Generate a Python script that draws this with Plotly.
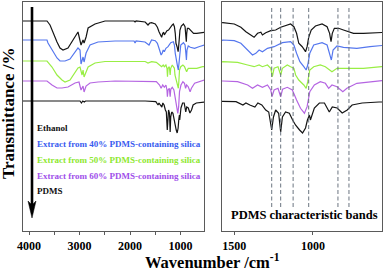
import plotly.graph_objects as go

W, H = 383, 272

# ---------------- data (wavenumber in cm-1, transmittance in a.u., baseline ~100) ----------------
wn_ethanol = [4119, 3644, 3584, 3525, 3446, 3386, 3327, 3228, 3129, 3050, 3030, 2970, 2930, 2910,
              2870, 2830, 2693, 2495, 1920, 1900, 1880, 1700, 1644, 1610,
              1573, 1500, 1458, 1426, 1395, 1374, 1352, 1331, 1321, 1300, 1268, 1237, 1205, 1163,
              1142, 1121, 1104, 1090, 1068, 1047, 1037, 1027, 1011, 984, 942, 910, 894, 885, 877,
              864, 837, 806, 742, 679, 616, 563, 530]
t_ethanol = [100, 100, 96, 88, 79, 73, 71, 73, 81, 88, 89, 76, 81, 78,
             84, 93, 97, 100, 100, 99, 100, 99, 96, 98,
             98.3, 97, 93.7, 89.3, 86, 83.7, 87.7, 88.7, 86, 88.3, 90.3, 91, 93.7, 96,
             97, 94.3, 87.7, 77.7, 74.3, 69.3, 74.3, 83.7, 91, 95, 97, 94.3, 87.7, 79.3, 87.7,
             92.7, 92.7, 91, 87.7, 87.7, 88.3, 88.7, 88.7]

wn_40 = [4119, 3644, 3624, 3545, 3446, 3386, 3287, 3188, 3089, 3030, 2990, 2970, 2930, 2910,
         2870, 2792, 2634, 2297, 1920, 1900, 1880, 1703, 1624,
         1573, 1500, 1458, 1415, 1384, 1363, 1342, 1321, 1289, 1247, 1194, 1142, 1121, 1104,
         1083, 1058, 1043, 1033, 1020, 995, 942, 910, 894, 883, 872, 847, 806, 721, 637, 563, 530]
t_40 = [100, 100, 97, 90, 82, 79, 79, 81, 88, 92, 90, 76, 83, 78,
        87, 95, 98, 99, 99, 97, 99, 98, 95,
        100, 99.3, 96.7, 90, 85, 86.7, 90, 88.3, 91.7, 93.3, 97.3, 98.3, 95, 86.7,
        78.3, 73.3, 70, 75, 86.7, 95, 97.3, 95, 86.7, 80, 90, 94, 92.7, 91.7, 93.3, 95, 95]

wn_50 = [4119, 3644, 3545, 3446, 3347, 3287, 3188, 3089, 3030, 2990, 2950, 2930, 2910, 2870,
         2830, 2693, 2495, 1700, 1644,
         1573, 1479, 1415, 1374, 1342, 1321, 1289, 1268, 1258, 1247, 1222, 1205, 1194, 1163,
         1142, 1121, 1110, 1090, 1058, 1043, 1033, 1020, 995, 953, 921, 890, 879, 847, 784,
         679, 563, 530]
t_50 = [100, 100, 94, 86, 81, 79, 81, 88, 93, 94, 86, 91, 84, 89,
        94, 98, 99.5, 99.5, 98,
        99.3, 98.7, 96, 94.3, 96, 94.3, 96, 92.7, 84.3, 92.7, 94.3, 86, 92.7, 96,
        94.3, 92.7, 86, 81, 76, 72.7, 79.3, 91, 94.3, 96, 94.3, 91, 89.3, 92.7, 92.7,
        92.7, 94.3, 94.3]

wn_60 = [4119, 3644, 3545, 3446, 3347, 3228, 3089, 3010, 2970, 2930, 2910, 2870, 2792, 2634,
         2297, 1700,
         1573, 1479, 1415, 1384, 1352, 1321, 1289, 1268, 1260, 1247, 1222, 1205, 1193, 1163,
         1131, 1104, 1079, 1062, 1054, 1037, 1020, 991, 953, 921, 900, 879, 847, 810, 784,
         721, 637, 563, 530]
t_60 = [100, 100, 96, 93, 93, 94, 98, 99, 91, 95, 89, 95, 98, 99,
        100, 99.5,
        100, 99.3, 96, 92.7, 96, 93.7, 96, 91, 84.3, 91, 92.7, 84.3, 91.7, 93.7,
        91, 81, 72.7, 69.3, 67.7, 74.3, 89.3, 96, 99.3, 97.7, 92.7, 96, 94.3, 89.3, 92.7,
        97.7, 99.3, 101, 101]

wn_pdms = [4119, 3100, 2990, 2962, 2935, 2905, 2880, 1700,
           1571, 1489, 1445, 1426, 1401, 1369, 1350, 1325, 1300, 1281, 1262, 1251, 1237, 1218,
           1205, 1194, 1174, 1150, 1129, 1111, 1085, 1066, 1047, 1035, 1022, 1016, 991, 959,
           927, 896, 877, 846, 814, 782, 751, 687, 580, 530]
t_pdms = [100, 100, 100, 98, 100, 99, 100, 100,
          99.3, 99.3, 96, 98, 96, 94, 98, 96, 91, 89, 71, 84, 91, 87.7,
          69, 84, 89, 87.7, 81, 76, 71, 68, 73, 81, 86, 81, 93, 98,
          98, 89, 94, 93, 88, 91, 96, 98, 99, 99]

series_names = ["Ethanol",
                "Extract from 40% PDMS-containing silica",
                "Extract from 50% PDMS-containing silica",
                "Extract from 60% PDMS-containing silica",
                "PDMS"]
series_wn = [wn_ethanol, wn_40, wn_50, wn_60, wn_pdms]
series_t = [t_ethanol, t_40, t_50, t_60, t_pdms]
stack_offsets = [0, -19, -40, -60, -80]

band_positions = [1262, 1205, 1126, 1027, 841, 771]

left_ticks = [4000, 3000, 2000, 1000]
right_ticks = [1500, 1000]

# ---------------- styles ----------------
line_colors = ["#151515", "#5577ee", "#99ee44", "#b565e2", "#151515"]
text_colors = ["#111111", "#3a5cf0", "#8ee830", "#a050ea", "#111111"]
SERIF = "Liberation Serif, Times New Roman, serif"
FRAME = "#5a5a5a"


def px(x):
    return x / W


def py(y):
    return 1 - y / H


fig = go.Figure()
for name, wn, t, off, col in zip(series_names, series_wn, series_t, stack_offsets, line_colors):
    y = [v + off for v in t]
    fig.add_trace(go.Scatter(x=wn, y=y, mode="lines", name=name, xaxis="x", yaxis="y",
                             line=dict(color=col, width=1.2), showlegend=False, hoverinfo="skip"))
    fig.add_trace(go.Scatter(x=wn, y=y, mode="lines", name=name, xaxis="x2", yaxis="y2",
                             line=dict(color=col, width=1.2), showlegend=False, hoverinfo="skip"))

tickfont = dict(family=SERIF, size=12, color="black", weight="bold")
yrange = [-110, 119]
ydom = [py(231), py(2)]

fig.update_layout(
    template="none",
    width=W, height=H, margin=dict(l=0, r=0, t=0, b=0, pad=0), autosize=False,
    paper_bgcolor="white", plot_bgcolor="white",
    xaxis=dict(domain=[px(23), px(204)], range=[4119, 535], anchor="y", automargin=False,
               showline=True, mirror=True, linecolor=FRAME, linewidth=1.2,
               showgrid=False, zeroline=False, tickvals=left_ticks,
               ticks="outside", ticklen=3, tickcolor=FRAME, tickfont=tickfont,
               minor=dict(dtick=500, tick0=0, ticks="outside", ticklen=3, tickcolor=FRAME,
                          showgrid=False)),
    yaxis=dict(domain=ydom, range=yrange, anchor="x", showline=True, mirror=True,
               automargin=False,
               linecolor=FRAME, linewidth=1.2, showgrid=False, zeroline=False,
               showticklabels=False, ticks=""),
    xaxis2=dict(domain=[px(222), px(382)], range=[1578, 561], anchor="y2", automargin=False,
                showline=True, mirror=True, linecolor=FRAME, linewidth=1.2,
                showgrid=False, zeroline=False, tickvals=right_ticks,
                ticks="outside", ticklen=3, tickcolor=FRAME, tickfont=tickfont),
    yaxis2=dict(domain=ydom, range=yrange, anchor="x2", showline=True, mirror=True,
                automargin=False,
                linecolor=FRAME, linewidth=1.2, showgrid=False, zeroline=False,
                showticklabels=False, ticks=""),
)

shapes = []
# dashed band markers in the right panel
for b in band_positions:
    shapes.append(dict(type="line", xref="x2", yref="paper", x0=b, x1=b, y0=py(8), y1=py(207),
                       line=dict(color="#6b7580", width=1, dash="4px,2.5px"), layer="above"))
# direction arrow
shapes.append(dict(type="line", xref="paper", yref="paper", x0=px(32), x1=px(32),
                   y0=py(7), y1=py(206), line=dict(color="black", width=2.6)))
shapes.append(dict(type="path", xref="paper", yref="paper",
                   path=(f"M {px(28)},{py(201)} L {px(32)},{py(205)} L {px(36)},{py(201)} "
                         f"L {px(32)},{py(218)} Z"),
                   fillcolor="black", line=dict(color="black", width=0.5)))
fig.update_layout(shapes=shapes)

ann = []
legend_y = [128, 144, 160, 176, 191]
for name, col, ly in zip(series_names, text_colors, legend_y):
    ann.append(dict(text=name, xref="paper", yref="paper", x=px(35), y=py(ly),
                    xanchor="left", yanchor="middle", showarrow=False,
                    font=dict(family=SERIF, size=9, color=col, weight="bold")))
ann.append(dict(text="PDMS characteristic bands", xref="paper", yref="paper",
                x=px(304), y=py(215), xanchor="center", yanchor="middle", showarrow=False,
                font=dict(family=SERIF, size=12.5, color="black", weight="bold")))
ann.append(dict(text="Wavenumber /cm<sup>-1</sup>", xref="paper", yref="paper",
                x=px(212), y=py(261), xanchor="center", yanchor="middle", showarrow=False,
                font=dict(family=SERIF, size=16.5, color="black", weight="bold")))
ann.append(dict(text="Transmittance /%", xref="paper", yref="paper", textangle=-90,
                x=px(8), y=py(114), xanchor="center", yanchor="middle", showarrow=False,
                font=dict(family=SERIF, size=17, color="black", weight="bold")))
fig.update_layout(annotations=ann)

fig.write_html("out.html",
               config={"displayModeBar": False, "staticPlot": True},
               post_script="document.body.style.margin='0px';"
                           "document.body.style.overflow='hidden';")
